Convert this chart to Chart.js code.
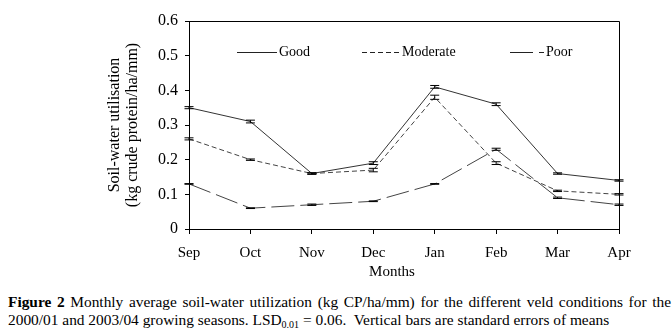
<!DOCTYPE html>
<html>
<head>
<meta charset="utf-8">
<script src="https://cdn.jsdelivr.net/npm/chart.js@4.4.1/dist/chart.umd.min.js"></script>
<style>
  body { margin: 0; background: #fff; }
  #wrap { position: absolute; left: 0; top: 0; width: 672px; height: 285px; }
  #caption {
    position: absolute; left: 8px; top: 293px; width: 663px;
    font-family: "Liberation Serif", "Times New Roman", serif;
    font-size: 15.4px; line-height: 18px; color: #000;
    text-align: justify;
  }
  #caption sub { font-size: 10px; vertical-align: -3px; line-height: 0; }
</style>
</head>
<body>
<div id="wrap"><canvas id="myChart" width="672" height="285"></canvas></div>
<div id="caption"><b>Figure 2</b> Monthly average soil-water utilization (kg CP/ha/mm) for the different veld conditions for the 2000/01 and 2003/04 growing seasons. LSD<sub>0.01</sub> = 0.06.&nbsp; Vertical bars are standard errors of means</div>
<script>
var months = ['Sep', 'Oct', 'Nov', 'Dec', 'Jan', 'Feb', 'Mar', 'Apr'];
var good = [0.35, 0.31, 0.16, 0.19, 0.41, 0.36, 0.16, 0.14];
var moderate = [0.26, 0.20, 0.16, 0.17, 0.38, 0.19, 0.11, 0.10];
var poor = [0.13, 0.06, 0.07, 0.08, 0.13, 0.23, 0.09, 0.07];
var goodErr = [0.003, 0.004, 0.002, 0.004, 0.004, 0.004, 0.002, 0.002];
var moderateErr = [0.003, 0.002, 0.002, 0.005, 0.006, 0.004, 0.002, 0.002];
var poorErr = [0.001, 0.001, 0.002, 0.001, 0.001, 0.003, 0.002, 0.002];

var serif = '"Liberation Serif", "Times New Roman", serif';
Chart.defaults.font.family = serif;
Chart.defaults.font.size = 14;
Chart.defaults.color = '#000';

// error bars, frame, x title and inline legend
var extras = {
  id: 'extras',
  afterDatasetsDraw: function (chart) {
    var c = chart.ctx, a = chart.chartArea, y = chart.scales.y;
    c.save();
    c.strokeStyle = '#000';
    c.lineWidth = 1;
    c.setLineDash([]);
    chart.data.datasets.forEach(function (ds, di) {
      var meta = chart.getDatasetMeta(di);
      meta.data.forEach(function (pt, i) {
        var v = ds.data[i], e = ds.errors[i];
        var y1 = y.getPixelForValue(v + e), y2 = y.getPixelForValue(v - e);
        c.beginPath();
        c.moveTo(pt.x, y1); c.lineTo(pt.x, y2);
        c.moveTo(pt.x - 4.5, y1); c.lineTo(pt.x + 4.5, y1);
        c.moveTo(pt.x - 4.5, y2); c.lineTo(pt.x + 4.5, y2);
        c.stroke();
      });
    });
    // frame top and right
    c.beginPath();
    c.moveTo(a.left, a.top + 0.5); c.lineTo(a.right + 0.5, a.top + 0.5);
    c.lineTo(a.right + 0.5, a.bottom);
    c.stroke();

    c.fillStyle = '#000';
    c.textBaseline = 'middle';
    // x axis title, sits a bit left of centre in the original
    c.font = '15px ' + serif;
    c.textAlign = 'center';
    c.fillText('Months', a.left + (a.right - a.left) * 0.472, a.bottom + 43);

    // legend
    var ly = a.top + 31;
    c.font = '14px ' + serif;
    c.textAlign = 'left';
    var items = [
      { x: 237, len: 40, text: 'Good', dash: [] },
      { x: 362, len: 38, text: 'Moderate', dash: [5, 3] },
      { x: 510, len: 34, text: 'Poor', dash: [23, 6] }
    ];
    items.forEach(function (it) {
      c.strokeStyle = '#222';
      c.setLineDash(it.dash);
      c.beginPath();
      c.moveTo(it.x, ly + 0.5); c.lineTo(it.x + it.len, ly + 0.5);
      c.stroke();
      c.setLineDash([]);
      c.fillText(it.text, it.x + it.len + 2, ly);
    });
    c.restore();
  }
};

var ctx = document.getElementById('myChart').getContext('2d');
var myChart = new Chart(ctx, {
  type: 'line',
  data: {
    labels: months,
    datasets: [{
      label: 'Good',
      data: good,
      errors: goodErr,
      borderColor: '#333',
      borderWidth: 1,
      pointRadius: 0,
      tension: 0
    }, {
      label: 'Moderate',
      data: moderate,
      errors: moderateErr,
      borderColor: '#444',
      borderWidth: 1,
      borderDash: [5, 3],
      pointRadius: 0,
      tension: 0
    }, {
      label: 'Poor',
      data: poor,
      errors: poorErr,
      borderColor: '#444',
      borderWidth: 1,
      borderDash: [23, 6],
      pointRadius: 0,
      tension: 0
    }]
  },
  options: {
    responsive: false,
    animation: false,
    layout: { padding: { left: 106, right: 53, top: 21, bottom: 0 } },
    plugins: {
      legend: { display: false },
      tooltip: { enabled: false }
    },
    scales: {
      x: {
        offset: false,
        grid: { display: true, drawOnChartArea: false, tickLength: 5, color: '#000' },
        border: { color: '#000', width: 1 },
        ticks: { padding: 10, font: { size: 15 } },
        afterFit: function (s) { s.height = 56; }
      },
      y: {
        min: 0,
        max: 0.6,
        ticks: { stepSize: 0.1, padding: 7, font: { size: 16 },
          callback: function (v) { return v === 0 ? '0' : v.toFixed(1); } },
        grid: { display: true, drawOnChartArea: false, tickLength: 4, color: '#000' },
        border: { color: '#000', width: 1 },
        title: { display: true, text: ['Soil-water utilisation', '(kg crude protein/ha/mm)'],
          padding: 0, font: { size: 16, lineHeight: 1.125 } },
        afterFit: function (s) { s.width = 83; }
      }
    }
  },
  plugins: [extras]
});
</script>
</body>
</html>
